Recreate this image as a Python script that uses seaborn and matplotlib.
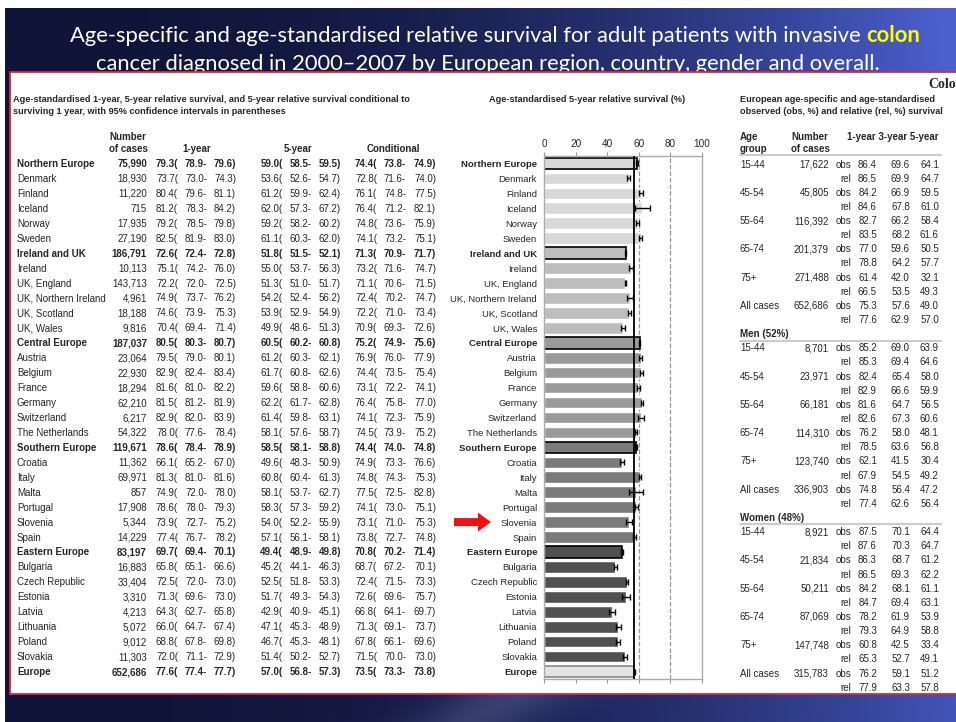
import numpy as np
import pandas as pd
import seaborn as sns
import matplotlib.pyplot as plt
import matplotlib.transforms as mtransforms
from matplotlib.patches import Rectangle, FancyArrow

# ---- tabela da esquerda + grafico de barras (sobrevida relativa, %) ----
paises = ['Northern Europe', 'Denmark', 'Finland', 'Iceland', 'Norway', 'Sweden',
          'Ireland and UK', 'Ireland', 'UK, England', 'UK, Northern Ireland', 'UK, Scotland', 'UK, Wales',
          'Central Europe', 'Austria', 'Belgium', 'France', 'Germany', 'Switzerland', 'The Netherlands',
          'Southern Europe', 'Croatia', 'Italy', 'Malta', 'Portugal', 'Slovenia', 'Spain',
          'Eastern Europe', 'Bulgaria', 'Czech Republic', 'Estonia', 'Latvia', 'Lithuania', 'Poland', 'Slovakia',
          'Europe']
regioes = ['Northern Europe', 'Ireland and UK', 'Central Europe', 'Southern Europe', 'Eastern Europe', 'Europe']
grupos = ['Northern Europe'] * 6 + ['Ireland and UK'] * 6 + ['Central Europe'] * 7 + \
         ['Southern Europe'] * 7 + ['Eastern Europe'] * 8 + ['Europe']
casos = ['75,990', '18,930', '11,220', '715', '17,935', '27,190',
         '186,791', '10,113', '143,713', '4,961', '18,188', '9,816',
         '187,037', '23,064', '22,930', '18,294', '62,210', '6,217', '54,322',
         '119,671', '11,362', '69,971', '857', '17,908', '5,344', '14,229',
         '83,197', '16,883', '33,404', '3,310', '4,213', '5,072', '9,012', '11,303',
         '652,686']
ano1 = [79.3, 73.7, 80.4, 81.2, 79.2, 82.5, 72.6, 75.1, 72.2, 74.9, 74.6, 70.4,
        80.5, 79.5, 82.9, 81.6, 81.5, 82.9, 78.0, 78.6, 66.1, 81.3, 74.9, 78.6, 73.9, 77.4,
        69.7, 65.8, 72.5, 71.3, 64.3, 66.0, 68.8, 72.0, 77.6]
ano1_inf = [78.9, 73.0, 79.6, 78.3, 78.5, 81.9, 72.4, 74.2, 72.0, 73.7, 73.9, 69.4,
            80.3, 79.0, 82.4, 81.0, 81.2, 82.0, 77.6, 78.4, 65.2, 81.0, 72.0, 78.0, 72.7, 76.7,
            69.4, 65.1, 72.0, 69.6, 62.7, 64.7, 67.8, 71.1, 77.4]
ano1_sup = [79.6, 74.3, 81.1, 84.2, 79.8, 83.0, 72.8, 76.0, 72.5, 76.2, 75.3, 71.4,
            80.7, 80.1, 83.4, 82.2, 81.9, 83.9, 78.4, 78.9, 67.0, 81.6, 78.0, 79.3, 75.2, 78.2,
            70.1, 66.6, 73.0, 73.0, 65.8, 67.4, 69.8, 72.9, 77.7]
ano5 = [59.0, 53.6, 61.2, 62.0, 59.2, 61.1, 51.8, 55.0, 51.3, 54.2, 53.9, 49.9,
        60.5, 61.2, 61.7, 59.6, 62.2, 61.4, 58.1, 58.5, 49.6, 60.8, 58.1, 58.3, 54.0, 57.1,
        49.4, 45.2, 52.5, 51.7, 42.9, 47.1, 46.7, 51.4, 57.0]
ano5_inf = [58.5, 52.6, 59.9, 57.3, 58.2, 60.3, 51.5, 53.7, 51.0, 52.4, 52.9, 48.6,
            60.2, 60.3, 60.8, 58.8, 61.7, 59.8, 57.6, 58.1, 48.3, 60.4, 53.7, 57.3, 52.2, 56.1,
            48.9, 44.1, 51.8, 49.3, 40.9, 45.3, 45.3, 50.2, 56.8]
ano5_sup = [59.5, 54.7, 62.4, 67.2, 60.2, 62.0, 52.1, 56.3, 51.7, 56.2, 54.9, 51.3,
            60.8, 62.1, 62.6, 60.6, 62.8, 63.1, 58.7, 58.8, 50.9, 61.3, 62.7, 59.2, 55.9, 58.1,
            49.8, 46.3, 53.3, 54.3, 45.1, 48.9, 48.1, 52.7, 57.3]
cond = [74.4, 72.8, 76.1, 76.4, 74.8, 74.1, 71.3, 73.2, 71.1, 72.4, 72.2, 70.9,
        75.2, 76.9, 74.4, 73.1, 76.4, 74.1, 74.5, 74.4, 74.9, 74.8, 77.5, 74.1, 73.1, 73.8,
        70.8, 68.7, 72.4, 72.6, 66.8, 71.3, 67.8, 71.5, 73.5]
cond_inf = [73.8, 71.6, 74.8, 71.2, 73.6, 73.2, 70.9, 71.6, 70.6, 70.2, 71.0, 69.3,
            74.9, 76.0, 73.5, 72.2, 75.8, 72.3, 73.9, 74.0, 73.3, 74.3, 72.5, 73.0, 71.0, 72.7,
            70.2, 67.2, 71.5, 69.6, 64.1, 69.1, 66.1, 70.0, 73.3]
cond_sup = [74.9, 74.0, 77.5, 82.1, 75.9, 75.1, 71.7, 74.7, 71.5, 74.7, 73.4, 72.6,
            75.6, 77.9, 75.4, 74.1, 77.0, 75.9, 75.2, 74.8, 76.6, 75.3, 82.8, 75.1, 75.3, 74.8,
            71.4, 70.1, 73.3, 75.7, 69.7, 73.7, 69.6, 73.0, 73.8]

# ---- tabela da direita (obs / rel: 1, 3 e 5 anos) ----
faixas = ['15-44', '45-54', '55-64', '65-74', '75+', 'All cases']
secoes = ['', 'Men (52%)', 'Women (48%)']
casos_todos = ['17,622', '45,805', '116,392', '201,379', '271,488', '652,686']
casos_homens = ['8,701', '23,971', '66,181', '114,310', '123,740', '336,903']
casos_mulheres = ['8,921', '21,834', '50,211', '87,069', '147,748', '315,783']
obs_todos = [[86.4, 69.6, 64.1], [84.2, 66.9, 59.5], [82.7, 66.2, 58.4],
             [77.0, 59.6, 50.5], [61.4, 42.0, 32.1], [75.3, 57.6, 49.0]]
rel_todos = [[86.5, 69.9, 64.7], [84.6, 67.8, 61.0], [83.5, 68.2, 61.6],
             [78.8, 64.2, 57.7], [66.5, 53.5, 49.3], [77.6, 62.9, 57.0]]
obs_homens = [[85.2, 69.0, 63.9], [82.4, 65.4, 58.0], [81.6, 64.7, 56.5],
              [76.2, 58.0, 48.1], [62.1, 41.5, 30.4], [74.8, 56.4, 47.2]]
rel_homens = [[85.3, 69.4, 64.6], [82.9, 66.6, 59.9], [82.6, 67.3, 60.6],
              [78.5, 63.6, 56.8], [67.9, 54.5, 49.2], [77.4, 62.6, 56.4]]
obs_mulheres = [[87.5, 70.1, 64.4], [86.3, 68.7, 61.2], [84.2, 68.1, 61.1],
                [78.2, 61.9, 53.9], [60.8, 42.5, 33.4], [76.2, 59.1, 51.2]]
rel_mulheres = [[87.6, 70.3, 64.7], [86.5, 69.3, 62.2], [84.7, 69.4, 63.1],
                [79.3, 64.9, 58.8], [65.3, 52.7, 49.1], [77.9, 63.3, 57.8]]

cores_grupo = {'Northern Europe': '#d8d8d8', 'Ireland and UK': '#bdbdbd', 'Central Europe': '#9a9a9a',
               'Southern Europe': '#7b7b7b', 'Eastern Europe': '#515151', 'Europe': '#e4e4e4'}

sns.set_style('white')
plt.rcParams['font.family'] = ['Liberation Sans', 'DejaVu Sans']

W, H = 956, 722
fig = plt.figure(figsize=(W / 100, H / 100), dpi=100, facecolor='white')

# fundo do slide (degrade azul)
bg = fig.add_axes([5 / W, 0, 1 - 5 / W, 1 - 8 / H], zorder=0)
yy, xx = np.mgrid[0:1:240j, 0:1:320j]
escuro = np.array([16, 20, 56]) / 255
claro = np.array([75, 95, 205]) / 255
t = np.clip(xx ** 2.4 * 0.85 + 0.2 * (1 - yy) * xx ** 2, 0, 1)
risco = np.exp(-((xx - 0.55) + (yy - 0.95) * 1.2) ** 2 / 0.004) * 0.12
img = escuro + (claro - escuro) * t[..., None] + risco[..., None]
bg.imshow(np.clip(img, 0, 1), extent=[0, 1, 0, 1], aspect='auto', origin='upper')
bg.set_axis_off()

# titulo
fs_tit = 15.8
t1 = fig.text(70 / W, 1 - 36 / H,
              'Age-specific and age-standardised relative survival for adult patients with invasive ',
              color='white', fontsize=fs_tit, family='Lato', va='center', zorder=0.5)
r = fig.canvas.get_renderer()
bb = t1.get_window_extent(r)
fig.text(bb.x1 / W, 1 - 36 / H, 'colon', color='#ffff00', fontsize=fs_tit, family='Lato',
         fontweight='bold', va='center', zorder=0.5)
fig.text(488 / W, 1 - 64 / H,
         'cancer diagnosed in 2000\u20132007 by European region, country, gender and overall.',
         color='white', fontsize=fs_tit, family='Lato', ha='center', va='center', zorder=0.5)

# painel branco
fig.patches.append(Rectangle((10 / W, 1 - 694 / H), 1, (694 - 72) / H, transform=fig.transFigure,
                             facecolor='white', edgecolor='#d8283c', lw=1.3, zorder=1))
fig.text(928 / W, 1 - 84 / H, 'Colon', family='Liberation Serif', fontweight='bold',
         fontsize=10, va='center', zorder=2.5)

# grafico de barras
ax = fig.add_axes([544 / W, 1 - 679 / H, (702 - 544) / W, (679 - 156) / H], zorder=2)
df = pd.DataFrame({'pais': paises, 'sobrev5': ano5, 'grupo': grupos})
paleta = {p: cores_grupo[g] for p, g in zip(paises, grupos)}
sns.barplot(data=df, x='sobrev5', y='pais', hue='pais', palette=paleta, legend=False,
            orient='h', width=0.78, saturation=1, errorbar=None, ax=ax)
for patch in ax.patches:
    i = int(round(patch.get_y() + patch.get_height() / 2))
    if paises[i] in regioes:
        patch.set_edgecolor('#888888' if paises[i] == 'Europe' else 'black')
        patch.set_linewidth(1.2)

pos = np.arange(len(paises))
a5 = np.array(ano5)
ax.errorbar(a5, pos, xerr=[a5 - np.array(ano5_inf), np.array(ano5_sup) - a5], fmt='none',
            ecolor='black', elinewidth=1, capsize=2.2, capthick=1, zorder=3)
for g in [60, 80]:
    ax.axvline(g, color='#999999', ls='--', lw=0.9, zorder=0)
ax.axvline(ano5[-1], color='black', lw=1.3, zorder=4)

ax.set_xlim(0, 100)
ax.set_ylim(len(paises) - 0.5, -0.5)
ax.set_xticks([0, 20, 40, 60, 80, 100])
ax.xaxis.tick_top()
ax.tick_params(axis='x', top=True, bottom=True, labeltop=True, labelbottom=False,
               length=3, width=0.8, color='#999999', labelsize=7.2, pad=2)
ax.tick_params(axis='y', length=0, pad=5, labelsize=6.8)
for lab in ax.get_yticklabels():
    if lab.get_text() in regioes:
        lab.set_fontweight('bold')
ax.set_xlabel('')
ax.set_ylabel('')
for s in ax.spines.values():
    s.set_color('#aaaaaa')
    s.set_linewidth(1)

# camada de textos em pixels
tx = fig.add_axes([0, 0, 1, 1], zorder=3)
tx.set_xlim(0, W)
tx.set_ylim(H, 0)
tx.set_axis_off()

fs = 7
fsh = 6.6
dy = 3.5  # meia altura das maiusculas, em px (texto alinhado pela linha de base)


def escreve(x, y, s, **kw):
    tx.text(x, y + dy, s, va='baseline', **kw)


escreve(587, 98, 'Age-standardised 5-year relative survival (%)', ha='center', fontsize=fsh, fontweight='bold')

# tabela da esquerda
escreve(13, 98, 'Age-standardised 1-year, 5-year relative survival, and 5-year relative survival conditional to',
        fontsize=fsh, fontweight='bold')
escreve(13, 110, 'surviving 1 year, with 95% confidence intervals in parentheses', fontsize=fsh, fontweight='bold')
escreve(128, 136, 'Number', fontsize=fs, fontweight='bold', ha='center')
escreve(128, 148, 'of cases', fontsize=fs, fontweight='bold', ha='center')
escreve(197, 148, '1-year', fontsize=fs, fontweight='bold', ha='center')
escreve(298, 148, '5-year', fontsize=fs, fontweight='bold', ha='center')
escreve(393, 148, 'Conditional', fontsize=fs, fontweight='bold', ha='center')

trans = mtransforms.blended_transform_factory(tx.transData, ax.transData)
trans = mtransforms.offset_copy(trans, fig=fig, y=-dy, units='dots')
colunas = [(ano1, ano1_inf, ano1_sup, (178, 207, 236)),
           (ano5, ano5_inf, ano5_sup, (283, 312, 341)),
           (cond, cond_inf, cond_sup, (377, 406, 436))]
for i, p in enumerate(paises):
    fw = 'bold' if p in regioes else 'normal'
    kw = dict(transform=trans, fontsize=fs, fontweight=fw, va='baseline')
    tx.text(17, i, p, ha='left', **kw)
    tx.text(147, i, casos[i], ha='right', **kw)
    for est, lo, hi, (x1, x2, x3) in colunas:
        tx.text(x1, i, f'{est[i]:.1f}(', ha='right', **kw)
        tx.text(x2, i, f'{lo[i]:.1f}-', ha='right', **kw)
        tx.text(x3, i, f'{hi[i]:.1f})', ha='right', **kw)

# seta vermelha (Slovenia)
y_slo = tx.transData.inverted().transform(ax.transData.transform((0, paises.index('Slovenia'))))[1]
tx.add_patch(FancyArrow(454, y_slo, 37, 0, width=8, head_width=19, head_length=13,
                        length_includes_head=True, color='#ee1111', lw=0))

# tabela da direita
escreve(740, 98, 'European age-specific and age-standardised', fontsize=fsh, fontweight='bold')
escreve(740, 110, 'observed (obs, %) and relative (rel, %) survival', fontsize=fsh, fontweight='bold')
escreve(740, 136, 'Age', fontsize=fs, fontweight='bold')
escreve(740, 148, 'group', fontsize=fs, fontweight='bold')
escreve(791, 136, 'Number', fontsize=fs, fontweight='bold')
escreve(791, 148, 'of cases', fontsize=fs, fontweight='bold')
escreve(939, 136, '1-year 3-year 5-year', fontsize=fs, fontweight='bold', ha='right')
tx.plot([740, 941], [155, 155], color='#cccccc', lw=1.5)

passo = 14.14
y = 164
blocos = [(casos_todos, obs_todos, rel_todos), (casos_homens, obs_homens, rel_homens),
          (casos_mulheres, obs_mulheres, rel_mulheres)]
for sec, (cs, obs, rel) in zip(secoes, blocos):
    if sec:
        escreve(740, y, sec, fontsize=fs, fontweight='bold')
        tx.plot([740, 941], [y + 7, y + 7], color='#cccccc', lw=1.5)
        y += passo
    for k, fx in enumerate(faixas):
        escreve(740, y, fx, fontsize=fs)
        escreve(829, y, cs[k], fontsize=fs, ha='right')
        for lin, nome in ((obs[k], 'obs'), (rel[k], 'rel')):
            escreve(851, y, nome, fontsize=fs, ha='right')
            for v, xc in zip(lin, (877, 910, 939)):
                escreve(xc, y, f'{v:.1f}', fontsize=fs, ha='right')
            y += passo

fig.savefig('out.png', dpi=100)
